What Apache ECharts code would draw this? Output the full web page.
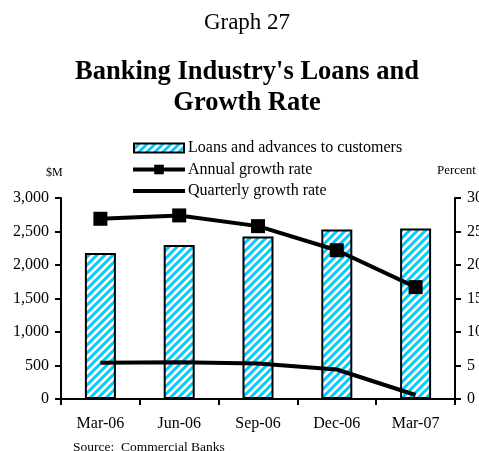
<!DOCTYPE html>
<html>
<head>
<meta charset="utf-8">
<script src="https://cdn.jsdelivr.net/npm/echarts@6/dist/echarts.min.js"></script>
<style>
  html, body { margin: 0; padding: 0; background: #fff; }
  #chart { width: 479px; height: 451px; }
</style>
</head>
<body>
<div id="chart"></div>
<script>
const categories = ['Mar-06', 'Jun-06', 'Sep-06', 'Dec-06', 'Mar-07']
const loans = [2180, 2300, 2425, 2530, 2545]
const annualGrowth = [26.9, 27.4, 25.8, 22.2, 16.7]
const quarterlyGrowth = [5.4, 5.5, 5.3, 4.4, 0.6]
const leftTicks = [0, 500, 1000, 1500, 2000, 2500, 3000]
const rightTicks = [0, 5, 10, 15, 20, 25, 30]

const font = 'Liberation Serif, Times New Roman, serif'

// hatch fill for the bars
function makeHatch() {
  const size = 8
  const c = document.createElement('canvas')
  c.width = size
  c.height = size
  const ctx = c.getContext('2d')
  ctx.fillStyle = '#fff'
  ctx.fillRect(0, 0, size, size)
  ctx.strokeStyle = '#00ccff'
  ctx.lineWidth = 3
  ctx.beginPath()
  ctx.moveTo(-2, size + 2)
  ctx.lineTo(size + 2, -2)
  ctx.moveTo(-2, 2)
  ctx.lineTo(2, -2)
  ctx.moveTo(size - 2, size + 2)
  ctx.lineTo(size + 2, size - 2)
  ctx.stroke()
  return c
}
const hatch = { image: makeHatch(), repeat: 'repeat' }

const chart = echarts.init(document.getElementById('chart'))

const option = {
  animation: false,
  backgroundColor: '#fff',
  textStyle: { fontFamily: font, color: '#000' },
  title: [
    {
      text: 'Graph 27',
      left: 242,
      top: 5,
      textAlign: 'center',
      textStyle: { fontFamily: font, fontSize: 23, fontWeight: 'normal', color: '#000', lineHeight: 26 }
    },
    {
      text: "Banking Industry's Loans and\nGrowth Rate",
      left: 242,
      top: 52,
      textAlign: 'center',
      textStyle: { fontFamily: font, fontSize: 26.5, fontWeight: 'bold', color: '#000', lineHeight: 31 }
    }
  ],
  legend: {
    orient: 'vertical',
    left: 131,
    top: 140,
    padding: 0,
    itemWidth: 52,
    itemHeight: 12,
    itemGap: 5.5,
    lineStyle: { width: 4 },
    textStyle: { fontFamily: font, fontSize: 16, color: '#000', lineHeight: 16, padding: [0, 0, 0, -2] },
    data: [
      { name: 'Loans and advances to customers', icon: 'path://M0,0M1,1.5h50v9h-50zM52,12' },
      { name: 'Annual growth rate' },
      {
        name: 'Quarterly growth rate',
        icon: 'path://M0,0M0,4h52v4h-52zM52,12',
        itemStyle: { color: '#000', borderWidth: 0 }
      }
    ]
  },
  graphic: [
    { type: 'text', left: 46, top: 167, style: { text: '$M', font: '12px ' + font, fill: '#000' } },
    { type: 'text', left: 437, top: 164, style: { text: 'Percent', font: '13px ' + font, fill: '#000' } },
    { type: 'text', left: 73, top: 440, style: { text: 'Source:  Commercial Banks', font: '13.5px ' + font, fill: '#000' } }
  ],
  grid: { left: 61, right: 24, top: 198, bottom: 52, outerBoundsMode: 'none' },
  xAxis: {
    type: 'category',
    data: categories,
    axisLine: { lineStyle: { color: '#000', width: 2 } },
    axisTick: { show: true, length: 6, lineStyle: { color: '#000', width: 2 } },
    axisLabel: { fontFamily: font, fontSize: 16, color: '#000', margin: 17 }
  },
  yAxis: [
    {
      type: 'value',
      min: 0,
      max: 3000,
      interval: 500,
      axisLine: { show: true, lineStyle: { color: '#000', width: 2 } },
      axisTick: { show: true, length: 6, lineStyle: { color: '#000', width: 2 } },
      splitLine: { show: false },
      axisLabel: {
        fontFamily: font,
        fontSize: 16,
        color: '#000',
        margin: 12,
        formatter: (v) => leftTicks.includes(v) ? v.toLocaleString('en-US') : ''
      }
    },
    {
      type: 'value',
      min: 0,
      max: 30,
      interval: 5,
      position: 'right',
      axisLine: { show: true, lineStyle: { color: '#000', width: 2 } },
      axisTick: { show: true, length: 6, lineStyle: { color: '#000', width: 2 } },
      splitLine: { show: false },
      axisLabel: {
        fontFamily: font,
        fontSize: 16,
        color: '#000',
        margin: 12,
        formatter: (v) => rightTicks.includes(v) ? String(v) : ''
      }
    }
  ],
  series: [
    {
      name: 'Loans and advances to customers',
      type: 'bar',
      data: loans,
      barWidth: 31,
      itemStyle: { color: hatch, borderColor: '#000', borderWidth: 2 }
    },
    {
      name: 'Annual growth rate',
      type: 'line',
      yAxisIndex: 1,
      data: annualGrowth,
      symbol: 'rect',
      symbolSize: 14,
      lineStyle: { color: '#000', width: 4 },
      itemStyle: { color: '#000' }
    },
    {
      name: 'Quarterly growth rate',
      type: 'line',
      yAxisIndex: 1,
      data: quarterlyGrowth,
      symbol: 'none',
      lineStyle: { color: '#000', width: 4 },
      itemStyle: { color: '#000' }
    }
  ]
}

chart.setOption(option)
</script>
</body>
</html>
